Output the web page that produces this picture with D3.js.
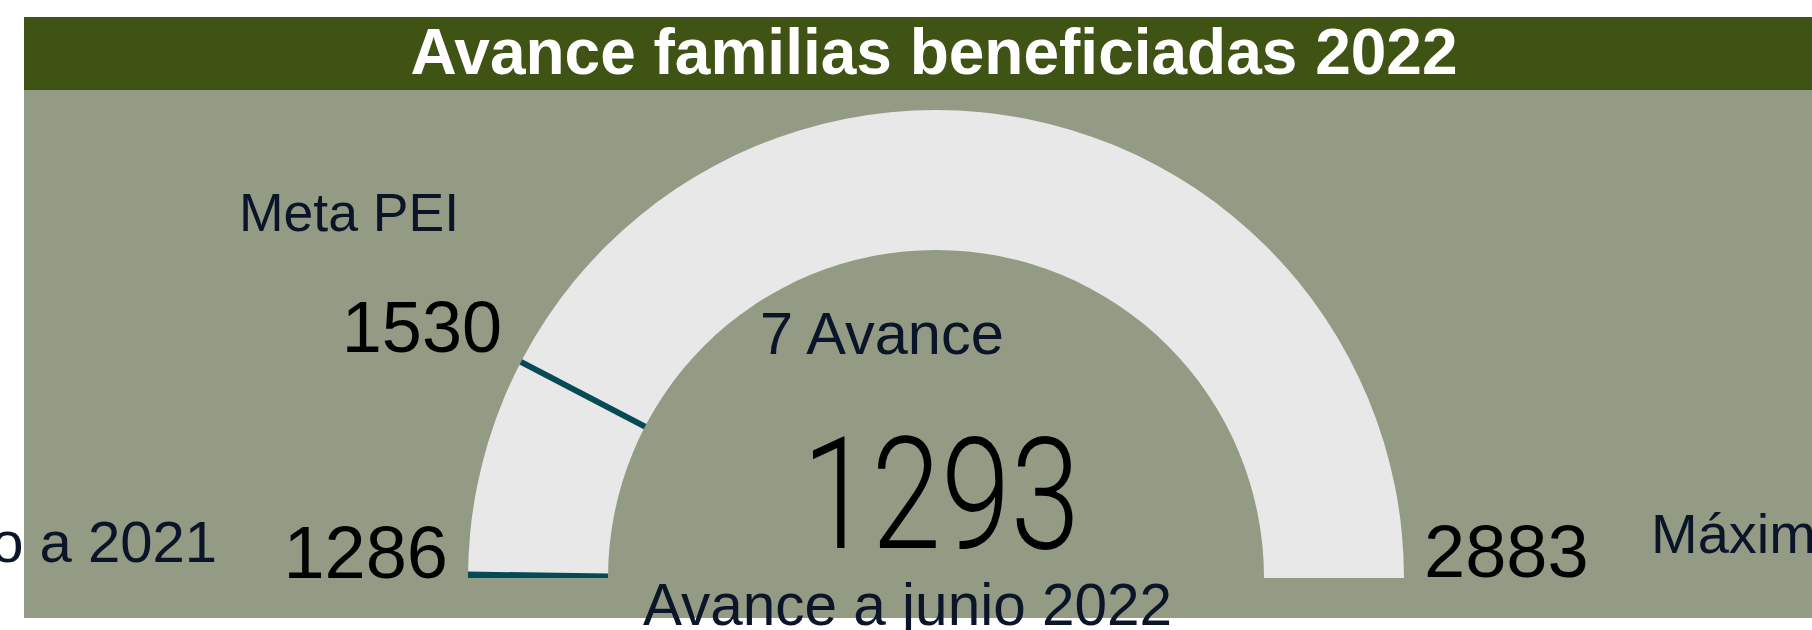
<!DOCTYPE html>
<html>
<head>
<meta charset="utf-8">
<script src="https://cdn.jsdelivr.net/npm/d3@7"></script>
<style>
  body { margin: 0; background: #fff; overflow: hidden; }
  svg { display: block; }
</style>
</head>
<body>
<svg id="chart" width="1812" height="630"></svg>
<script>
// chart values
const titleText = 'Avance familias beneficiadas 2022';
const gaugeBounds = [1286, 2883];      // min, max
const avanceValues = [1293];           // avance a junio 2022
const metaValues = [1530];             // meta PEI
const captions = ['Acumulado a 2021', 'Meta PEI', 'Avance', 'Avance a junio 2022', 'Máximo'];

const W = 1812, H = 630;
const cx = 936, cy = 578, outerR = 468, innerR = 328;
const labelFont = 'Liberation Sans, Arial, sans-serif';
const navy = '#0b1529';
const teal = '#064a55';

const svg = d3.select('#chart');

// panel + title band
svg.append('rect').attr('x', 24).attr('y', 90).attr('width', W - 24).attr('height', 528).attr('fill', '#939b84');
svg.append('rect').attr('x', 24).attr('y', 17).attr('width', W - 24).attr('height', 73).attr('fill', '#3f5314');
svg.append('text')
  .attr('x', 934).attr('y', 74)
  .attr('text-anchor', 'middle')
  .attr('font-family', labelFont).attr('font-weight', 'bold').attr('font-size', 64)
  .attr('fill', '#fff')
  .text(titleText);

const angle = d3.scaleLinear().domain(gaugeBounds).range([-Math.PI / 2, Math.PI / 2]);
const arc = d3.arc().innerRadius(innerR).outerRadius(outerR);
const g = svg.append('g').attr('transform', `translate(${cx},${cy})`);

// background band
g.append('path')
  .attr('d', arc({ startAngle: angle(gaugeBounds[0]), endAngle: angle(gaugeBounds[1]) }))
  .attr('fill', '#e8e8e8');

// value fill (tiny, since value is close to the minimum)
g.selectAll('path.value').data(avanceValues).enter().append('path')
  .attr('class', 'value')
  .attr('d', d => arc({ startAngle: angle(gaugeBounds[0]), endAngle: angle(d) }))
  .attr('fill', teal);

// target line
g.selectAll('line.target').data(metaValues).enter().append('line')
  .attr('class', 'target')
  .attr('x1', d => innerR * Math.sin(angle(d))).attr('y1', d => -innerR * Math.cos(angle(d)))
  .attr('x2', d => outerR * Math.sin(angle(d))).attr('y2', d => -outerR * Math.cos(angle(d)))
  .attr('stroke', teal).attr('stroke-width', 6);

const fmt = d3.format('d');
function label(x, y, txt, size, color, anchor) {
  return svg.append('text')
    .attr('x', x).attr('y', y)
    .attr('text-anchor', anchor || 'start')
    .attr('font-family', labelFont).attr('font-size', size)
    .attr('fill', color)
    .text(txt);
}

// min / max
label(448, 578, fmt(gaugeBounds[0]), 74, '#000', 'end');
label(1424, 577, fmt(gaugeBounds[1]), 74, '#000');
label(217, 562, captions[0], 58, navy, 'end');
label(1651, 553, captions[4], 56, navy);

// target labels
label(502, 352, fmt(metaValues[0]), 72, '#000', 'end');
label(239, 231, captions[1], 53.5, navy);

// avance delta
label(760, 354, (avanceValues[0] - gaugeBounds[0]) + ' ' + captions[2], 59.5, navy);

// big value
svg.append('text')
  .attr('x', 941).attr('y', 548)
  .attr('text-anchor', 'middle')
  .attr('font-family', 'Roboto, Lato, sans-serif').attr('font-weight', 300).attr('font-size', 155)
  .attr('textLength', 278).attr('lengthAdjust', 'spacingAndGlyphs')
  .attr('fill', '#000')
  .text(fmt(avanceValues[0]));

label(643, 625, captions[3], 58.5, navy);
</script>
</body>
</html>
